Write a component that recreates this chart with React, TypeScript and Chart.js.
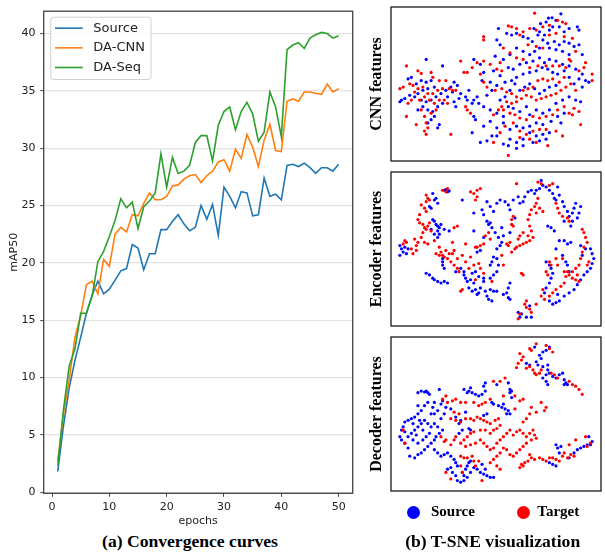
import React, { useEffect, useRef } from 'react';
import { Chart, registerables } from 'chart.js';
Chart.register(...registerables);

// ---------- Convergence curves data ----------
const epochs = [1,2,3,4,5,6,7,8,9,10,11,12,13,14,15,16,17,18,19,20,21,22,23,24,25,26,27,28,29,30,31,32,33,34,35,36,37,38,39,40,41,42,43,44,45,46,47,48,49,50];
const sourceMAP = [1.8,5.8,9.1,11.5,13.5,15.6,17.2,18.4,17.3,17.7,18.5,19.3,19.5,21.6,21.3,19.4,20.8,20.8,22.9,22.9,23.6,24.2,23.4,22.8,23.1,25.0,23.8,25.1,22.4,26.6,25.8,24.8,26.2,26.1,24.1,24.2,27.4,25.8,26.0,25.5,28.5,28.6,28.4,28.7,28.3,27.8,28.3,28.3,28.0,28.6];
const daCnnMAP = [2.7,6.8,9.8,13.5,15.4,18.1,18.4,17.3,20.3,19.7,22.5,23.1,22.7,24.2,24.1,25.2,26.1,25.5,25.5,25.8,26.7,26.8,27.3,27.6,27.7,27.0,27.6,28.0,28.8,29.0,28.0,29.9,29.1,31.2,30.1,28.4,30.7,32.1,29.8,29.7,34.1,34.3,34.1,34.9,34.9,34.8,34.7,35.6,34.9,35.2];
const daSeqMAP = [2.3,7.2,11.0,12.5,15.6,15.6,17.1,20.1,21.0,22.3,23.7,25.6,24.8,25.3,23.0,24.9,25.4,26.1,29.5,26.6,29.2,27.8,28.0,28.5,30.5,31.1,31.1,28.9,32.0,33.2,33.6,31.6,33.2,34.0,33.0,30.6,31.4,34.9,33.6,31.0,38.6,39.0,39.2,38.7,39.6,39.9,40.1,40.0,39.6,39.8];
const seriesNames = ['Source', 'DA-CNN', 'DA-Seq'];
const seriesColors = ['#1f77b4', '#ff7f0e', '#2ca02c'];
const yTicks = [0, 5, 10, 15, 20, 25, 30, 35, 40];
const xTicks = [0, 10, 20, 30, 40, 50];

// ---------- T-SNE data (panel coordinates) ----------
const panelTitles = ['CNN features', 'Encoder features', 'Decoder features'];
const domainNames = ['Source', 'Target'];

const cnnSource = [[535,35],[497,48],[508,47],[520,55],[490,60],[473,65],[453,80],[470,90],[485,100],[500,85],[510,75],[530,75],[545,90],[560,80],[585,75],[590,85],[345,80],[370,95],[385,100],[400,95],[420,105],[435,110],[448,120],[465,100],[480,115],[495,125],[515,120],[530,130],[545,120],[560,125],[575,135],[590,130],[600,160],[560,160],[540,150],[520,145],[500,140],[470,140],[455,150],[440,160],[420,150],[400,140],[380,160],[350,130],[340,115],[335,165],[360,175],[375,200],[390,205],[410,190],[430,185],[450,180],[470,170],[485,185],[500,175],[520,180],[540,190],[560,195],[580,205],[600,220],[620,245],[610,240],[590,235],[575,250],[560,230],[545,210],[525,220],[510,215],[495,205],[478,200],[460,210],[440,215],[420,220],[400,230],[385,240],[365,245],[350,225],[330,210],[300,215],[290,190],[270,175],[295,240],[320,245],[340,255],[325,270],[310,285],[280,290],[270,300],[285,310],[300,320],[320,330],[340,340],[360,350],[375,320],[390,325],[410,335],[430,320],[440,345],[460,330],[480,340],[500,330],[520,310],[540,300],[560,290],[580,300],[595,305],[600,260],[520,255],[500,260],[485,270],[470,280],[455,265],[440,250],[425,260],[410,270],[395,250],[380,270],[365,290],[350,300],[270,350],[275,360],[300,380],[320,365],[340,385],[360,370],[380,390],[400,380],[420,385],[440,380],[460,370],[480,375],[505,365],[525,350],[545,340],[535,370],[500,400],[480,405],[460,410],[440,400],[420,420],[400,430],[380,420],[360,435],[340,410],[325,410],[310,425],[290,430],[265,400],[375,440],[400,448],[420,440],[450,430],[470,425],[490,420],[125,175],[175,195],[70,235],[80,230],[95,250],[110,240],[125,245],[140,240],[150,260],[130,265],[115,270],[100,280],[90,290],[75,285],[60,295],[50,300],[45,305],[110,300],[125,305],[140,300],[155,290],[170,280],[185,270],[200,260],[210,245],[220,255],[205,275],[190,290],[175,310],[160,320],[145,335],[130,330],[115,320],[100,330],[150,350],[140,360],[130,370],[165,375],[160,385],[210,305],[215,320],[225,295],[230,280],[245,290],[255,270],[250,300],[265,310]];
const cnnTarget = [[455,33],[525,55],[540,60],[550,65],[500,70],[480,75],[460,85],[440,80],[420,90],[400,80],[385,75],[375,72],[300,105],[300,115],[410,100],[435,130],[460,135],[480,140],[500,100],[520,95],[545,105],[570,110],[580,150],[560,175],[565,180],[610,185],[605,200],[590,210],[630,220],[630,240],[550,200],[530,195],[510,195],[490,195],[465,195],[440,200],[420,175],[400,170],[380,155],[360,140],[350,185],[340,205],[355,210],[320,190],[300,180],[280,185],[265,200],[240,215],[250,215],[230,180],[290,220],[300,245],[310,260],[335,270],[355,265],[370,275],[385,280],[400,290],[415,295],[430,285],[445,290],[460,300],[475,295],[490,290],[505,285],[520,280],[535,270],[550,260],[565,250],[580,270],[420,270],[435,265],[450,260],[465,240],[480,235],[495,240],[510,235],[530,245],[545,230],[400,305],[385,310],[370,305],[355,320],[345,330],[330,345],[360,330],[380,340],[395,345],[410,355],[430,360],[450,350],[470,355],[490,350],[510,345],[525,330],[545,320],[560,340],[570,345],[590,335],[575,325],[365,380],[390,370],[410,395],[430,405],[450,395],[470,390],[490,390],[520,395],[495,440],[410,415],[440,420],[460,430],[350,400],[330,430],[375,470],[540,410],[595,375],[260,340],[245,320],[250,330],[200,405],[65,195],[100,210],[110,218],[140,215],[145,230],[165,240],[185,240],[195,265],[205,270],[215,270],[75,250],[85,255],[55,260],[45,265],[100,265],[115,260],[130,280],[145,280],[160,270],[175,265],[90,275],[80,300],[70,310],[105,300],[120,290],[135,300],[150,310],[165,300],[180,300],[190,310],[65,350],[95,375],[120,350],[125,370],[130,385],[120,395],[125,405],[110,330],[140,340],[155,330]];

const encSource = [[180,70],[190,75],[185,68],[195,72],[145,80],[150,100],[160,110],[155,95],[135,120],[140,125],[145,160],[150,165],[155,175],[160,180],[165,185],[160,195],[165,205],[160,215],[150,205],[140,190],[170,175],[180,190],[195,195],[45,240],[50,250],[55,260],[45,270],[65,265],[70,250],[60,245],[125,325],[135,330],[145,340],[150,345],[160,350],[170,355],[180,350],[190,355],[175,300],[180,310],[175,280],[175,290],[240,320],[245,340],[250,350],[260,345],[270,355],[240,330],[255,370],[265,380],[275,375],[285,385],[290,370],[280,390],[300,350],[305,380],[320,375],[330,380],[315,405],[325,410],[320,300],[325,290],[330,275],[340,280],[345,300],[340,320],[330,330],[320,340],[340,250],[350,240],[355,230],[360,210],[345,215],[335,200],[325,185],[320,170],[310,165],[300,145],[295,130],[310,105],[320,120],[330,135],[340,110],[350,100],[365,105],[375,115],[380,130],[390,100],[405,90],[410,110],[420,105],[425,90],[435,75],[445,70],[455,80],[460,70],[470,65],[480,55],[475,40],[490,60],[500,70],[510,80],[515,95],[520,100],[530,85],[525,60],[540,105],[545,120],[555,135],[560,150],[570,140],[575,125],[580,110],[595,120],[590,140],[585,155],[570,165],[565,180],[545,165],[495,180],[505,185],[515,195],[530,225],[545,225],[555,235],[565,230],[380,355],[375,370],[370,385],[375,400],[380,405],[360,390],[340,380],[310,395],[300,340],[285,335],[275,320],[265,325],[235,100],[270,140],[315,175],[355,185],[380,200],[395,155],[300,215],[290,255],[280,260],[230,310],[215,320],[270,195],[490,290],[500,300],[505,310],[510,325],[505,340],[500,355],[490,370],[485,385],[525,390],[530,410],[520,415],[510,420],[500,410],[545,395],[560,385],[575,375],[585,360],[595,345],[605,330],[615,320],[625,310],[630,295],[635,280],[630,265],[625,250],[610,250],[600,270],[595,240],[520,250],[540,270],[550,290],[555,300],[560,320],[405,445],[415,450],[410,460],[430,460],[445,460],[440,425]];
const encTarget = [[190,65],[185,75],[175,70],[125,85],[130,95],[135,100],[125,105],[110,115],[120,125],[125,135],[105,145],[100,160],[105,170],[115,175],[120,185],[125,190],[130,180],[135,170],[140,195],[115,200],[110,215],[100,230],[95,240],[90,220],[60,225],[55,235],[65,230],[80,250],[95,255],[85,265],[120,230],[130,235],[150,225],[165,245],[170,260],[175,270],[180,275],[190,280],[200,290],[210,300],[220,310],[225,320],[195,265],[185,255],[165,270],[155,265],[205,265],[210,255],[220,280],[235,270],[245,290],[260,275],[270,300],[255,310],[285,295],[280,245],[290,240],[300,235],[275,245],[305,210],[315,200],[320,220],[210,185],[220,180],[205,230],[245,235],[260,75],[280,70],[290,65],[270,80],[275,100],[280,90],[385,160],[390,150],[385,175],[390,180],[400,50],[370,235],[375,240],[380,230],[385,260],[395,250],[400,245],[410,240],[420,235],[430,230],[440,225],[405,220],[410,210],[420,200],[435,210],[450,215],[445,195],[440,180],[435,160],[440,145],[445,130],[455,120],[460,110],[465,95],[460,140],[470,125],[480,135],[465,45],[475,50],[500,55],[510,50],[520,110],[525,125],[530,140],[540,150],[555,155],[560,165],[600,190],[605,200],[610,215],[615,230],[605,245],[600,260],[595,280],[590,300],[580,310],[570,320],[560,330],[550,335],[545,355],[535,365],[520,375],[510,385],[500,395],[480,375],[475,395],[485,405],[495,330],[490,320],[500,290],[505,300],[525,300],[520,280],[540,280],[545,320],[555,320],[570,340],[580,345],[590,350],[585,330],[615,300],[620,290],[430,410],[425,420],[430,430],[440,435],[445,445],[460,420],[405,465],[410,450],[415,325],[420,330],[360,300],[355,270],[325,350],[235,375],[230,380],[300,325],[275,345],[290,310]];

const decSource = [[100,185],[110,180],[120,183],[130,185],[125,180],[135,190],[165,175],[150,215],[145,230],[130,215],[120,225],[110,240],[100,250],[90,260],[80,265],[70,270],[60,275],[55,290],[50,300],[45,320],[50,330],[60,340],[70,355],[75,380],[90,385],[100,375],[110,370],[120,360],[130,350],[140,340],[150,330],[155,320],[165,310],[175,300],[160,290],[150,280],[140,290],[130,280],[120,270],[110,280],[100,290],[90,300],[80,310],[70,320],[85,330],[100,340],[115,330],[125,320],[135,310],[140,250],[150,250],[160,240],[170,220],[175,210],[185,230],[200,235],[180,250],[170,265],[100,225],[105,270],[115,300],[85,280],[95,315],[60,305],[150,360],[160,370],[170,380],[180,375],[190,370],[200,380],[210,390],[215,400],[220,410],[200,415],[190,420],[205,430],[215,440],[220,455],[230,460],[240,455],[240,440],[235,430],[245,420],[250,410],[255,400],[260,395],[270,415],[280,420],[290,430],[300,435],[310,440],[320,445],[330,445],[295,405],[305,420],[260,430],[250,445],[225,280],[230,270],[235,300],[225,310],[215,260],[240,175],[255,180],[265,185],[275,190],[285,195],[295,190],[305,180],[300,165],[305,155],[260,170],[250,185],[340,160],[375,155],[380,185],[385,180],[380,175],[325,215],[330,220],[345,225],[355,230],[365,235],[375,240],[380,250],[370,250],[360,220],[385,200],[255,295],[260,300],[300,255],[310,250],[245,245],[455,45],[470,70],[475,80],[480,60],[490,55],[500,45],[460,90],[465,100],[480,105],[495,100],[495,115],[500,125],[490,130],[480,140],[490,150],[495,160],[510,135],[520,140],[530,130],[540,125],[545,145],[550,155],[555,160],[545,160],[440,100],[430,95],[520,345],[525,355],[535,350],[530,370],[560,385],[575,370],[585,360],[595,355],[605,350],[615,345],[625,345],[630,335],[620,320],[520,410],[510,405],[500,400]];
const decTarget = [[410,65],[420,75],[415,85],[405,95],[400,108],[445,55],[440,50],[460,35],[490,40],[500,50],[510,60],[450,115],[455,125],[460,130],[470,125],[475,115],[430,110],[440,105],[505,125],[515,130],[525,140],[560,150],[570,160],[580,165],[590,175],[600,190],[185,195],[190,215],[175,205],[205,210],[215,205],[230,215],[210,245],[200,265],[215,270],[225,250],[245,215],[270,215],[285,225],[295,220],[305,215],[320,205],[360,195],[395,195],[410,210],[420,205],[395,235],[350,150],[330,150],[365,140],[475,215],[490,230],[485,240],[445,230],[440,250],[430,265],[420,275],[460,245],[230,275],[245,265],[260,265],[270,270],[280,260],[290,265],[300,270],[310,275],[320,280],[335,270],[345,265],[350,285],[340,295],[330,300],[320,310],[305,300],[290,300],[270,305],[260,310],[250,320],[240,330],[230,340],[215,320],[210,330],[200,345],[185,330],[180,335],[170,320],[245,350],[260,345],[275,340],[290,330],[300,340],[310,350],[320,360],[330,355],[340,340],[350,330],[360,320],[370,310],[380,300],[390,315],[400,305],[410,300],[420,310],[430,320],[440,310],[450,300],[455,315],[460,325],[445,330],[430,340],[420,350],[410,360],[400,370],[390,380],[380,375],[370,360],[360,355],[350,370],[340,380],[330,390],[320,400],[340,410],[350,420],[230,380],[240,385],[250,385],[265,380],[270,395],[285,395],[275,410],[185,430],[200,450],[295,455],[415,405],[425,400],[435,395],[445,385],[440,375],[455,390],[470,385],[480,390],[490,395],[500,385],[510,385],[520,390],[530,395],[540,380],[545,370],[555,385],[565,375],[575,380],[560,345],[580,330],[610,320],[615,350],[625,340],[55,300],[60,340],[420,410],[410,415],[230,410],[235,430]];

const panelSources = [cnnSource, encSource, decSource];
const panelTargets = [cnnTarget, encTarget, decTarget];
const domainColors = ['#0000ff', '#ff0000'];

const tickFont = { family: '"DejaVu Sans", sans-serif', size: 11 };

const framePlugin = (color: string, width: number) => ({
  id: 'frame',
  afterDatasetsDraw(chart: any) {
    const { ctx, chartArea: a } = chart;
    ctx.save();
    ctx.strokeStyle = color;
    ctx.lineWidth = width;
    ctx.strokeRect(a.left, a.top, a.right - a.left, a.bottom - a.top);
    ctx.restore();
  },
});

const lineLegendPlugin = {
  id: 'lineLegend',
  afterDraw(chart: any) {
    const { ctx, chartArea: a } = chart;
    const x0 = a.left + 7;
    const y0 = a.top + 6;
    const w = 100.3;
    const h = 62.3;
    ctx.save();
    ctx.beginPath();
    if (ctx.roundRect) ctx.roundRect(x0, y0, w, h, 3);
    else ctx.rect(x0, y0, w, h);
    ctx.fillStyle = 'rgba(255,255,255,0.85)';
    ctx.fill();
    ctx.strokeStyle = '#d0d0d0';
    ctx.lineWidth = 1;
    ctx.stroke();
    ctx.font = '13px "DejaVu Sans", sans-serif';
    ctx.textBaseline = 'middle';
    ctx.textAlign = 'left';
    seriesNames.forEach((name, i) => {
      const y = y0 + 11 + i * 19.65;
      ctx.strokeStyle = seriesColors[i];
      ctx.lineWidth = 1.6;
      ctx.beginPath();
      ctx.moveTo(x0 + 4.3, y);
      ctx.lineTo(x0 + 32, y);
      ctx.stroke();
      ctx.fillStyle = '#222';
      ctx.fillText(name, x0 + 42.6, y);
    });
    ctx.restore();
  },
};

const panelTops = [3, 168, 333];

export default function App() {
  const lineRef = useRef<HTMLCanvasElement | null>(null);
  const p0 = useRef<HTMLCanvasElement | null>(null);
  const p1 = useRef<HTMLCanvasElement | null>(null);
  const p2 = useRef<HTMLCanvasElement | null>(null);

  useEffect(() => {
    const charts: Chart[] = [];
    const series = [sourceMAP, daCnnMAP, daSeqMAP];
    charts.push(
      new Chart(lineRef.current as HTMLCanvasElement, {
        type: 'line',
        data: {
          datasets: series.map((vals, i) => ({
            label: seriesNames[i],
            data: epochs.map((e, k) => ({ x: e, y: vals[k] })),
            borderColor: seriesColors[i],
            backgroundColor: seriesColors[i],
            borderWidth: 1.6,
            pointRadius: 0,
            tension: 0,
            fill: false,
            order: 3 - i,
          })),
        },
        options: {
          responsive: false,
          animation: false,
          events: [],
          layout: { padding: { top: 4, right: 17.3, left: 0, bottom: 0 } },
          plugins: { legend: { display: false }, tooltip: { enabled: false } },
          scales: {
            x: {
              type: 'linear',
              min: -1.45,
              max: 52.45,
              afterBuildTicks: (s: any) => { s.ticks = xTicks.map((v) => ({ value: v })); },
              afterFit: (s: any) => { s.height = 36.7; },
              grid: { drawOnChartArea: false, drawTicks: true, tickLength: 3.5, tickColor: '#444', tickWidth: 1 },
              border: { display: false },
              ticks: { font: tickFont, color: '#222', padding: 4, maxRotation: 0, autoSkip: false },
              title: { display: true, text: 'epochs', font: tickFont, color: '#222', padding: { top: 0, bottom: 2.4 } },
            },
            y: {
              type: 'linear',
              min: -0.1,
              max: 41.95,
              afterBuildTicks: (s: any) => { s.ticks = yTicks.map((v) => ({ value: v })); },
              afterFit: (s: any) => { s.width = 43.7; },
              grid: { color: '#e2e2e2', lineWidth: 1.2, drawTicks: true, tickLength: 3.5, tickColor: '#444', tickWidth: 1 },
              border: { display: false },
              ticks: { font: tickFont, color: '#222', padding: 4.6, autoSkip: false },
              title: { display: true, text: 'mAP50', font: tickFont, color: '#222', padding: { top: 7.4, bottom: 0 } },
            },
          },
        },
        plugins: [framePlugin('#444', 1.3), lineLegendPlugin],
      } as any)
    );

    [p0, p1, p2].forEach((ref, i) => {
      charts.push(
        new Chart(ref.current as HTMLCanvasElement, {
          type: 'scatter',
          data: {
            datasets: [panelSources[i], panelTargets[i]].map((pts, d) => ({
              label: domainNames[d],
              data: pts.map((p) => ({ x: p[0], y: p[1] })),
              backgroundColor: domainColors[d],
              borderWidth: 0,
              pointRadius: 1.6,
              order: 2 - d,
            })),
          },
          options: {
            responsive: false,
            animation: false,
            events: [],
            layout: { padding: { top: 1.7, bottom: 2.7, right: 1.5, left: 0 } },
            plugins: { legend: { display: false }, tooltip: { enabled: false } },
            scales: {
              x: { type: 'linear', display: false, min: 18, max: 657 },
              y: {
                type: 'linear',
                display: true,
                min: 14,
                max: 487,
                reverse: true,
                afterFit: (s: any) => { s.width = 25; },
                ticks: { display: false },
                grid: { display: false, drawTicks: false },
                border: { display: false },
                title: {
                  display: true,
                  text: panelTitles[i],
                  color: '#000',
                  font: { family: '"Liberation Serif", "Times New Roman", serif', weight: 'bold', size: 16 },
                  padding: { top: 1.1, bottom: 0 },
                },
              },
            },
          },
          plugins: [framePlugin('#1a1a1a', 1.3)],
        } as any)
      );
    });

    return () => charts.forEach((c) => c.destroy());
  }, []);

  const serif = '"Liberation Serif", "Times New Roman", serif';
  const captionStyle: React.CSSProperties = {
    position: 'absolute',
    top: 531,
    width: 220,
    textAlign: 'center',
    fontFamily: serif,
    fontWeight: 'bold',
    fontSize: 17.6,
    lineHeight: '20px',
    color: '#000',
    whiteSpace: 'nowrap',
  };
  const legendText: React.CSSProperties = {
    position: 'absolute',
    top: 503.4,
    fontFamily: serif,
    fontWeight: 'bold',
    fontSize: 15,
    lineHeight: '17px',
    color: '#000',
    whiteSpace: 'nowrap',
  };
  const dot = (cx: number, color: string): React.CSSProperties => ({
    position: 'absolute',
    left: cx - 6.5,
    top: 512 - 6.5,
    width: 13,
    height: 13,
    borderRadius: '50%',
    background: color,
  });

  return (
    <div style={{ position: 'absolute', left: 0, top: 0, width: 605, height: 557, background: '#fff', overflow: 'hidden' }}>
      <canvas ref={lineRef} width={370} height={530} style={{ position: 'absolute', left: 0, top: 0, width: 370, height: 530 }} />
      {[p0, p1, p2].map((r, i) => (
        <canvas key={i} ref={r} width={239} height={162} style={{ position: 'absolute', left: 366, top: panelTops[i], width: 239, height: 162 }} />
      ))}
      <div style={dot(413.3, domainColors[0])} />
      <div style={{ ...legendText, left: 431 }}>{domainNames[0]}</div>
      <div style={dot(523.3, domainColors[1])} />
      <div style={{ ...legendText, left: 537.3 }}>{domainNames[1]}</div>
      <div style={{ ...captionStyle, left: 80 }}>(a) Convergence curves</div>
      <div style={{ ...captionStyle, left: 382.7 }}>(b) T-SNE visualization</div>
    </div>
  );
}
